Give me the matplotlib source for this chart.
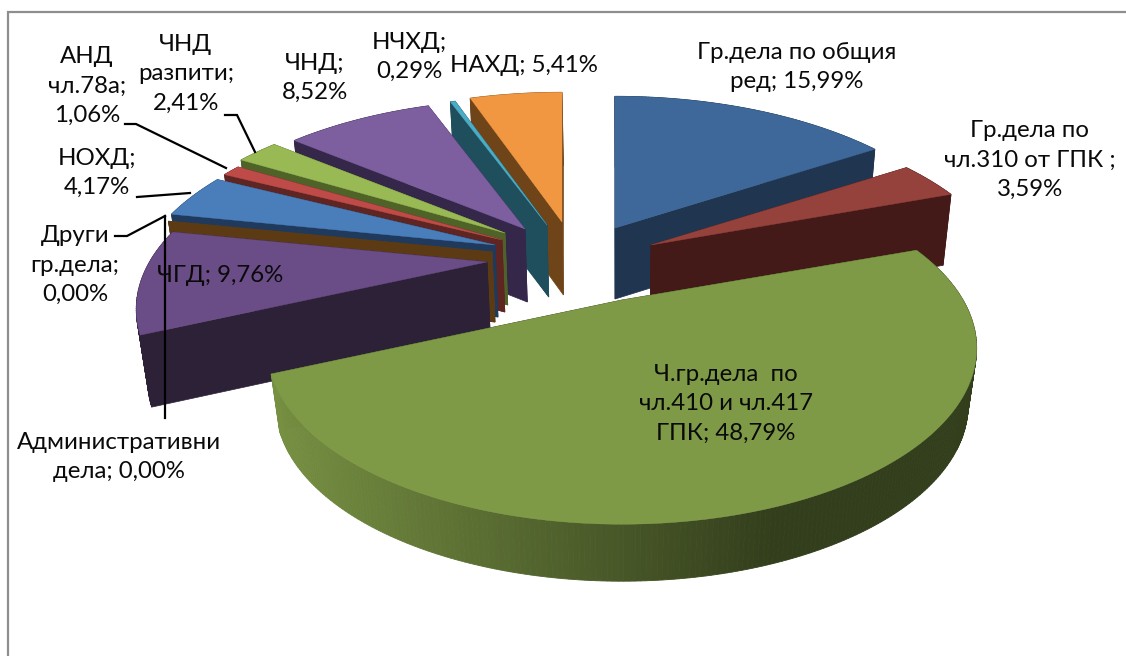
import numpy as np
import matplotlib
matplotlib.use("Agg")
import matplotlib.pyplot as plt
from matplotlib.colors import to_rgb

plt.rcParams['font.family'] = ['Lato', 'Open Sans', 'DejaVu Sans']

# ---- data (clockwise from 12 o'clock) ----
categories = ["Гр.дела по общия ред", "Гр.дела по чл.310 от ГПК", "Ч.гр.дела по чл.410 и чл.417 ГПК",
              "ЧГД", "Други гр.дела", "Административни дела", "НОХД", "АНД чл.78а",
              "ЧНД разпити", "ЧНД", "НЧХД", "НАХД"]
values = [15.99, 3.59, 48.79, 9.76, 0.00, 0.00, 4.17, 1.06, 2.41, 8.52, 0.29, 5.41]

# ---- styling / layout ----
top_colors = ["#3D6899", "#95413C", "#7F9A47", "#6A4C86", "#5C3A14", "#5C3A14",
              "#4A7EBB", "#BE4B48", "#98B954", "#7D5FA0", "#4BACC6", "#F29741"]
wall_colors = ["#1F3550", "#431A17", "#333E1C", "#2D2138", "#5C3A14", "#5C3A14",
               "#1F3A5C", "#5E2522", "#4F6329", "#34274A", "#1F4E5C", "#6E4418"]
apex_x = [615, 651, 622, 487, 492, 492, 495, 502, 505, 525, 547, 562]
apex_y = [228, 245, 300, 262, 252, 252, 245, 240, 233, 229, 225, 222]
depths = [71, 71, 57, 72, 70, 70, 72, 72, 72, 73, 72, 73]
radius = [1.02, 1.0, 0.98, 0.97, 1.0, 1.0, 1.0, 1.0, 1.0, 1.0, 1.0, 1.0]
draw_order = [11, 10, 9, 8, 7, 6, 4, 3, 0, 1, 2]
RX, RY, PERSP = 348, 166, 0.28
VANISH_X, TILT = 620, 0.024

labels = [
    ("Гр.дела по общия\nред; 15,99%", 797, 67),
    ("Гр.дела по\nчл.310 от ГПК ;\n3,59%", 1030, 160),
    ("Ч.гр.дела  по\nчл.410 и чл.417\nГПК; 48,79%", 726, 404),
    ("ЧГД; 9,76%", 220, 275),
    ("Други\nгр.дела;\n0,00%", 75, 265),
    ("Административни\nдела; 0,00%", 119, 457),
    ("НОХД;\n4,17%", 97, 173),
    ("АНД\nчл.78а;\n1,06%", 87, 86),
    ("ЧНД\nразпити;\n2,41%", 186, 74),
    ("ЧНД;\n8,52%", 315, 78),
    ("НЧХД;\n0,29%", 409, 57),
    ("НАХД; 5,41%", 524, 65),
]
leaders = [
    ([125, 136, 226], [124, 124, 168]),
    ([225, 237, 255], [115, 115, 152]),
    ([137, 190], [197, 193]),
    ([115, 127, 165], [236, 236, 216]),
    ([165, 165], [216, 418]),
]

fig = plt.figure(figsize=(11.26, 6.56), dpi=100)
ax = fig.add_axes([0, 0, 1, 1])
ax.set_xlim(0, 1126)
ax.set_ylim(656, 0)
ax.axis("off")
ax.plot([8, 8, 1126], [656, 12, 12], color="#8E8E8E", lw=1.6, zorder=1, solid_joinstyle="miter")


def project(theta, r, ax0, ay0):
    u, v = r * np.sin(theta), r * np.cos(theta)
    s = 1 / (1 + PERSP * v)
    return ax0 + RX * u * s, ay0 - RY * v * s


def drop(x, y, d):
    return x + (VANISH_X - x) * TILT, y + d


def mix(a, b, t):
    a, b = np.array(to_rgb(a)), np.array(to_rgb(b))
    return tuple(a + (b - a) * np.clip(t, 0, 1))


cum = np.cumsum([0] + values) / sum(values) * 2 * np.pi
z = 2
for i in draw_order:
    t0, t1 = cum[i], cum[i + 1]
    n = max(3, int((t1 - t0) / 0.012))
    th = np.linspace(t0, t1, n)
    x, y = project(th, radius[i], apex_x[i], apex_y[i])
    x0, y0, d = apex_x[i], apex_y[i], depths[i]
    xb, yb = drop(x, y, d)
    x0b, y0b = drop(x0, y0, d)
    # cut faces
    for k in (0, -1):
        ax.fill([x0, x[k], xb[k], x0b], [y0, y[k], yb[k], y0b], color=wall_colors[i], lw=0.5, zorder=z)
    # outer wall, shaded along its length
    for j in range(n - 1):
        if i == 2:
            c = mix(wall_colors[i], "#7A9444", (776 - x[j]) / 530) if x[j] < 776 else wall_colors[i]
        else:
            c = wall_colors[i]
        ax.fill([x[j], x[j + 1], xb[j + 1], xb[j]], [y[j], y[j + 1], yb[j + 1], yb[j]], color=c, lw=0.6, zorder=z)
    # top face
    if t1 > t0:
        ax.fill(np.r_[x0, x], np.r_[y0, y], color=top_colors[i], lw=0.3, zorder=z + 0.5)
    z += 1

for xs, ys in leaders:
    ax.plot(xs, ys, color="black", lw=1.6, zorder=50, solid_joinstyle="miter")
for txt, lx, ly in labels:
    ax.text(lx, ly, txt, ha="center", va="center", fontsize=17.3, color="#0A0A0A",
            linespacing=1.5, zorder=60)

fig.savefig("out.png", dpi=100)
